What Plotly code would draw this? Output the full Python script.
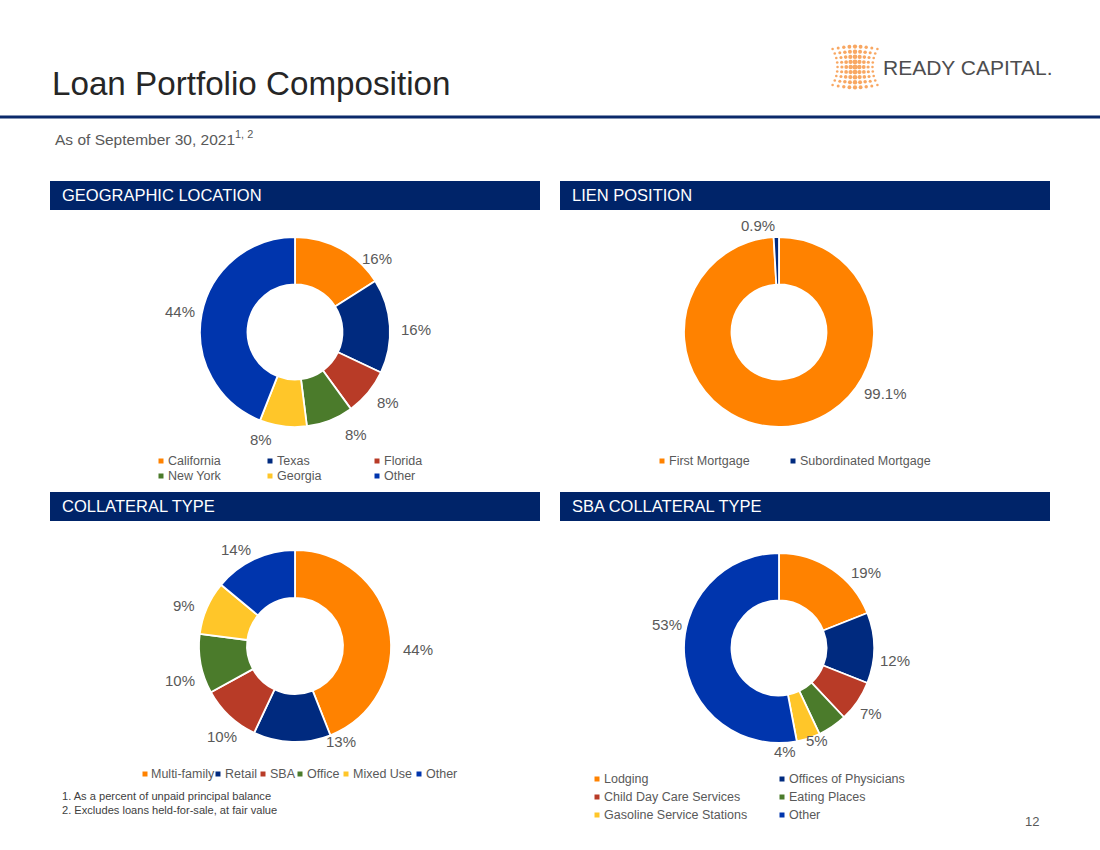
import math
import plotly.graph_objects as go

W, H = 1100, 850

# ---------------- data ----------------
geo_labels = ["California", "Texas", "Florida", "New York", "Georgia", "Other"]
geo_values = [16, 16, 8, 8, 8, 44]

lien_labels = ["First Mortgage", "Subordinated Mortgage"]
lien_values = [99.1, 0.9]

coll_labels = ["Multi-family", "Retail", "SBA", "Office", "Mixed Use", "Other"]
coll_values = [44, 13, 10, 10, 9, 14]

sba_labels = ["Lodging", "Offices of Physicians", "Child Day Care Services",
              "Eating Places", "Gasoline Service Stations", "Other"]
sba_values = [19, 12, 7, 5, 4, 53]

section_titles = ["GEOGRAPHIC LOCATION", "LIEN POSITION", "COLLATERAL TYPE", "SBA COLLATERAL TYPE"]
footnotes = ["1. As a percent of unpaid principal balance",
             "2. Excludes loans held-for-sale, at fair value"]

# ---------------- style ----------------
COLORS6 = ["#FF8200", "#002A7F", "#B83B27", "#4B7B2B", "#FFC629", "#0035AD"]
LIEN_COLORS = ["#FF8200", "#002A7F"]
NAVY = "#002469"
LINE_NAVY = "#0B2A6B"
GRAY = "#595959"
FONT = "Liberation Sans, Arial, sans-serif"


def px(x):
    return x / W


def py(y):
    return 1 - y / H


charts = [
    dict(labels=geo_labels, values=geo_values, colors=COLORS6, center=(295, 332), r=95,
         label_pos=[(48, 110), (89, 121), (127, 117), (149, 119), (197.5, 113), (280, 117)],
         leg_cols=[161, 270, 377], leg_rows=[461, 476]),
    dict(labels=lien_labels, values=lien_values, colors=LIEN_COLORS, center=(779, 332), r=95,
         label_pos=[(120, 123), (349, 108)],
         leg_cols=[662, 793], leg_rows=[461]),
    dict(labels=coll_labels, values=coll_values, colors=COLORS6, center=(295, 646), r=96,
         label_pos=[(91.4, 123), (154, 106), (219, 116), (253.5, 120), (290, 118), (328.7, 113.5)],
         leg_cols=[145, 218, 263, 300, 346, 419], leg_rows=[774]),
    dict(labels=sba_labels, values=sba_values, colors=COLORS6, center=(779, 648), r=95,
         label_pos=[(49, 115), (96, 117), (125.7, 113), (157.6, 100), (176.7, 104), (282, 114.5)],
         leg_cols=[597, 782], leg_rows=[779, 797, 815]),
]

fig = go.Figure()
annotations = []
shapes = []


def note(x, y, text, size, color, xanchor="center", yanchor="middle"):
    annotations.append(dict(x=px(x), y=py(y), xref="paper", yref="paper",
                            xanchor=xanchor, yanchor=yanchor, text=text, showarrow=False,
                            font=dict(family=FONT, size=size, color=color)))


for ch in charts:
    cx, cy = ch["center"]
    R = ch["r"]
    fig.add_trace(go.Pie(
        labels=ch["labels"], values=ch["values"],
        hole=0.5, sort=False, direction="clockwise", rotation=0,
        textinfo="none", showlegend=False,
        marker=dict(colors=ch["colors"], line=dict(color="white", width=1.8)),
        domain=dict(x=[px(cx - R), px(cx + R)], y=[py(cy + R), py(cy - R)]),
    ))
    # data labels
    for v, (ang, rr) in zip(ch["values"], ch["label_pos"]):
        a = math.radians(ang)
        note(cx + rr * math.sin(a), cy - rr * math.cos(a), f"{v:g}%", 15, GRAY)
    # legend
    ncol = len(ch["leg_cols"])
    for k, (lab, col) in enumerate(zip(ch["labels"], ch["colors"])):
        sx = ch["leg_cols"][k % ncol]
        sy = ch["leg_rows"][k // ncol]
        shapes.append(dict(type="rect", xref="paper", yref="paper",
                           x0=px(sx - 2.5), x1=px(sx + 2.5), y0=py(sy + 2.5), y1=py(sy - 2.5),
                           fillcolor=col, line=dict(width=0)))
        note(sx + 4.5, sy, lab, 12.5, GRAY, xanchor="left")

# section header bars
bars = [(50, 540, 181, 210), (560, 1050, 181, 210), (50, 540, 492, 521), (560, 1050, 492, 521)]
for (x0, x1, y0, y1), t in zip(bars, section_titles):
    shapes.append(dict(type="rect", xref="paper", yref="paper",
                       x0=px(x0), x1=px(x1), y0=py(y1), y1=py(y0),
                       fillcolor=NAVY, line=dict(width=0), layer="below"))
    note(x0 + 10, (y0 + y1) / 2, t, 16.5, "white", xanchor="left")

# title, rule, subtitle
note(50, 83, "Loan Portfolio Composition", 33.2, "#262626", xanchor="left")
shapes.append(dict(type="rect", xref="paper", yref="paper", x0=0, x1=1,
                   y0=py(118.5), y1=py(115.5), fillcolor=LINE_NAVY, line=dict(width=0)))
note(53, 138, "As of September 30, 2021<sup>1, 2</sup>", 15.5, GRAY, xanchor="left")

# footnotes
for i, fn in enumerate(footnotes):
    note(60, 796 + 14 * i, fn, 11.1, "#404040", xanchor="left")

# page number
note(1032, 821, "12", 13, GRAY)

# logo text
note(881, 67, "READY CAPITAL.", 21, "#4D4D4F", xanchor="left")

# logo dot grid (decorative)
lx, ly, ls = [], [], []
for i in range(-4, 5):
    for j in range(-4, 5):
        xf = 0.78 + 0.22 * (i / 4) ** 2
        yf = 0.9 + 0.12 * (1 - (j / 4) ** 2)
        lx.append(855 + j * 5.6 * xf)
        ly.append(67 + i * 5.0 * yf)
        ls.append(2.6 + 2.4 * (1 - abs(j) / 4) * (1 - 0.3 * abs(i) / 4))
fig.add_trace(go.Scatter(x=lx, y=ly, mode="markers", xaxis="x", yaxis="y",
                         marker=dict(size=ls, color="#F58220", line=dict(width=0)),
                         showlegend=False, hoverinfo="skip"))

fig.update_layout(
    width=W, height=H,
    margin=dict(l=0, r=0, t=0, b=0),
    paper_bgcolor="white", plot_bgcolor="rgba(0,0,0,0)",
    showlegend=False,
    xaxis=dict(domain=[px(825), px(885)], range=[825, 885], visible=False, fixedrange=True),
    yaxis=dict(domain=[py(95), py(40)], range=[95, 40], visible=False, fixedrange=True),
    annotations=annotations,
    shapes=shapes,
)

fig.write_html("out.html")
